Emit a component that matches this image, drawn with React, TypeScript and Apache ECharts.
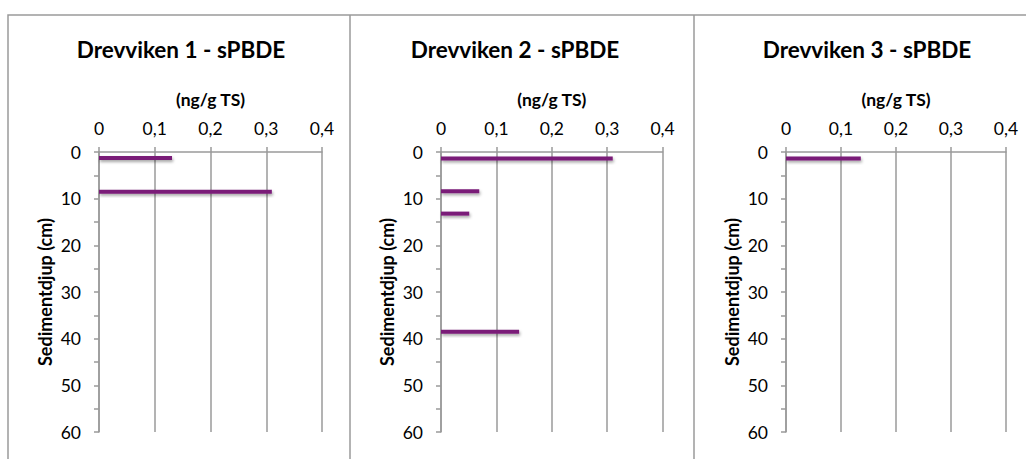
import React, { useEffect, useRef } from "react";
import * as echarts from "echarts";

const titles = ["Drevviken 1 - sPBDE", "Drevviken 2 - sPBDE", "Drevviken 3 - sPBDE"];
const xAxisName = "(ng/g TS)";
const yAxisName = "Sedimentdjup (cm)";

const depths1 = [1.3, 8.5];
const values1 = [0.131, 0.31];
const depths2 = [1.4, 8.4, 13.2, 38.5];
const values2 = [0.31, 0.069, 0.051, 0.141];
const depths3 = [1.4];
const values3 = [0.136];

const panelsDepths = [depths1, depths2, depths3];
const panelsValues = [values1, values2, values3];

const FONT = "Lato, 'Open Sans', sans-serif";
const GRAY = "#9a9a9a";
const BAR = "#7a1a78";

const grids = [
  { left: 99, width: 223 },
  { left: 441, width: 221.6 },
  { left: 786, width: 220 },
];
const titleX = [181, 515, 867];

export default function App() {
  const ref = useRef<HTMLDivElement>(null);
  useEffect(() => {
    const chart = echarts.init(ref.current!, null, { renderer: "svg" });
    const renderItem = (params: any, api: any) => {
      const v = api.value(0);
      const d = api.value(1);
      const s = api.coord([0, d]);
      const e = api.coord([v, d]);
      return {
        type: "rect",
        shape: { x: s[0], y: s[1] - 2, width: e[0] - s[0], height: 4 },
        style: {
          fill: BAR,
          shadowColor: "rgba(0,0,0,0.35)",
          shadowBlur: 3,
          shadowOffsetY: 2,
          shadowOffsetX: 1,
        },
      };
    };
    const option: any = {
      animation: false,
      backgroundColor: "#ffffff",
      grid: grids.map((g) => ({ left: g.left, width: g.width, top: 152, height: 280 })),
      xAxis: grids.map((_, i) => ({
        gridIndex: i,
        type: "value",
        position: "top",
        min: 0,
        max: 0.4,
        interval: 0.1,
        name: xAxisName,
        nameLocation: "middle",
        nameGap: 44,
        nameTextStyle: { fontFamily: FONT, fontWeight: "bold", fontSize: 17.5, color: "#000" },
        axisLine: { show: true, lineStyle: { color: GRAY, width: 1.5 } },
        axisTick: { show: true, length: 5, lineStyle: { color: GRAY, width: 1.5 } },
        axisLabel: {
          margin: 15,
          fontFamily: FONT,
          fontSize: 17.5,
          color: "#000",
          formatter: (v: number) => (v === 0 ? "0" : v.toFixed(1).replace(".", ",")),
        },
        splitLine: { show: true, lineStyle: { color: GRAY, width: 1.5 } },
      })),
      yAxis: grids.map((_, i) => ({
        gridIndex: i,
        type: "value",
        inverse: true,
        min: 0,
        max: 60,
        interval: 5,
        name: yAxisName,
        nameLocation: "middle",
        nameGap: 45,
        nameRotate: 90,
        nameTextStyle: { fontFamily: FONT, fontWeight: "bold", fontSize: 18, color: "#000" },
        axisLine: { show: true, lineStyle: { color: GRAY, width: 1.5 } },
        axisTick: { show: true, length: 5, lineStyle: { color: GRAY, width: 1.5 } },
        axisLabel: {
          margin: 18,
          fontFamily: FONT,
          fontSize: 17.5,
          color: "#000",
          formatter: (v: number) => (v % 10 === 0 ? String(v) : ""),
        },
        splitLine: { show: false },
      })),
      series: panelsValues.map((vals, i) => ({
        type: "custom",
        xAxisIndex: i,
        yAxisIndex: i,
        renderItem,
        data: vals.map((v, j) => [v, panelsDepths[i][j]]),
      })),
      graphic: [
        {
          type: "polyline",
          shape: { points: [[8, 470], [8, 15], [1030, 15]] },
          style: { stroke: GRAY, lineWidth: 1.5, fill: "none" },
        },
        {
          type: "line",
          shape: { x1: 350, y1: 15, x2: 350, y2: 470 },
          style: { stroke: GRAY, lineWidth: 1.5 },
        },
        {
          type: "line",
          shape: { x1: 694, y1: 15, x2: 694, y2: 470 },
          style: { stroke: GRAY, lineWidth: 1.5 },
        },
        ...titles.map((t, i) => ({
          type: "text",
          x: titleX[i],
          y: 49,
          style: {
            text: t,
            textAlign: "center",
            textVerticalAlign: "middle",
            fontFamily: FONT,
            fontWeight: "bold",
            fontSize: 22.5,
            fill: "#000",
          },
        })),
      ],
    };
    chart.setOption(option);
    return () => chart.dispose();
  }, []);
  return (
    <div
      ref={ref}
      style={{ position: "fixed", left: 0, top: 0, width: 1026, height: 459 }}
    />
  );
}
